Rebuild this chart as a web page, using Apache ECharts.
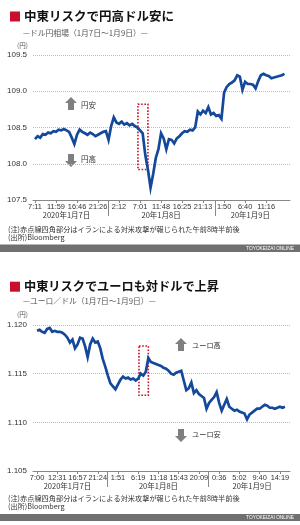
<!DOCTYPE html>
<html><head><meta charset="utf-8">
<script src="https://cdn.jsdelivr.net/npm/echarts@6/dist/echarts.min.js"></script>
<style>html,body{margin:0;padding:0;background:#fff}#c{width:300px;height:525px}</style>
</head><body><div id="c"></div>
<script>
// ---------- Chart 1: USD/JPY ----------
const usdjpy = [
 108.34,108.38,108.36,108.41,108.40,108.43,108.42,108.45,108.44,108.47,
 108.46,108.48,108.46,108.44,108.36,108.27,108.40,108.47,108.44,108.42,
 108.40,108.43,108.41,108.38,108.40,108.42,108.44,108.45,108.33,108.52,
 108.64,108.57,108.55,108.58,108.54,108.56,108.53,108.55,108.52,108.50,
 108.46,108.42,108.12,107.92,107.67,107.86,108.08,108.20,108.42,108.35,
 108.20,108.34,108.33,108.28,108.35,108.38,108.42,108.45,108.44,108.47,
 108.46,108.50,108.72,108.68,108.73,108.70,108.78,108.68,108.70,108.66,
 108.67,108.62,108.98,109.06,109.10,109.12,109.15,109.22,109.20,109.02,
 109.13,109.10,109.10,109.09,109.04,109.14,109.22,109.24,109.22,109.21,
 109.18,109.19,109.20,109.21,109.22,109.24
];
const usdjpyTickIdx = [0,8,16,24,32,40,48,56,64,72,80,88];
const usdjpyTickLabels = ['7:11','11:59','16:46','21:26','2:12','7:01','11:48','16:25','21:13','1:50','6:40','11:16'];
const usdjpyDaySplits = [28, 68.5];
const usdjpyDayIdx = [12, 48, 82];
const usdjpyDayLabels = ['2020年1月7日','20年1月8日','20年1月9日'];
const usdjpyEventBox = [[39.2, 108.82], [43, 107.92]];
const usdjpyY = {min: 107.5, max: 109.5, interval: 0.5};

// ---------- Chart 2: EUR/USD ----------
const eurusd = [
 1.1194,1.1195,1.1193,1.1192,1.1196,1.1197,1.1193,1.1194,1.1193,1.1193,
 1.1192,1.1190,1.1187,1.1182,1.1185,1.1176,1.1180,1.1187,1.1186,1.1178,
 1.1167,1.1180,1.1186,1.1182,1.1183,1.1176,1.1165,1.1157,1.1148,1.1140,
 1.1137,1.1134,1.1139,1.1144,1.1147,1.1145,1.1146,1.1144,1.1145,1.1143,
 1.1145,1.1150,1.1148,1.1152,1.1166,1.1162,1.1161,1.1160,1.1159,1.1158,
 1.1156,1.1155,1.1153,1.1150,1.1149,1.1151,1.1152,1.1153,1.1143,1.1133,
 1.1135,1.1141,1.1130,1.1133,1.1129,1.1127,1.1125,1.1114,1.1120,1.1123,
 1.1126,1.1131,1.1120,1.1112,1.1118,1.1124,1.1116,1.1114,1.1112,1.1113,
 1.1111,1.1110,1.1109,1.1103,1.1108,1.1110,1.1112,1.1114,1.1114,1.1116,
 1.1118,1.1117,1.1115,1.1115,1.1114,1.1115,1.1116,1.1115,1.1116
];
const eurusdTickIdx = [0,8,16,24,32,40,48,56,64,72,80,88,96];
const eurusdTickLabels = ['7:00','12:31','16:57','21:24','1:51','6:19','11:18','15:43','20:09','0:36','5:02','9:40','14:19'];
const eurusdDaySplits = [27.7, 67.6];
const eurusdDayIdx = [12, 48, 85];
const eurusdDayLabels = ['2020年1月7日','20年1月8日','20年1月9日'];
const eurusdEventBox = [[40.3, 1.11784], [44, 1.11278]];
const eurusdY = {min: 1.105, max: 1.120, interval: 0.005};

// ---------- styles ----------
const FONT = '"Liberation Sans","Noto Sans CJK JP",sans-serif';
const JP = '"Noto Sans CJK JP",sans-serif';
const LINE = '#13489a';
const GRAY = '#888';

function lookup(idxArr, labels){
  return v => { const k = idxArr.findIndex(t => Math.abs(t - v) < 1e-6); return k >= 0 ? labels[k] : ''; };
}
function xAxes(gridIndex, xmin, xmax, tickIdx, tickLabels, splits, dayIdx, dayLabels){
  return [{
    type:'value', gridIndex, min:xmin, max:xmax, position:'bottom',
    axisLine:{show:true, lineStyle:{color:GRAY, width:1}},
    axisTick:{show:true, customValues:tickIdx, length:3, lineStyle:{color:GRAY}},
    axisLabel:{customValues:tickIdx, formatter:lookup(tickIdx, tickLabels), fontSize:7.4, color:'#333', margin:3.5, fontFamily:FONT, hideOverlap:false},
    splitLine:{show:false}
  },{
    type:'value', gridIndex, min:xmin, max:xmax, position:'bottom',
    axisLine:{show:false},
    axisTick:{show:true, customValues:splits, length:16, lineStyle:{color:GRAY}},
    axisLabel:{customValues:dayIdx, formatter:lookup(dayIdx, dayLabels), fontSize:7.5, color:'#333', margin:11, fontFamily:JP},
    splitLine:{show:false}
  }];
}
function yAxis(gridIndex, cfg, dec){
  return {
    type:'value', gridIndex, min:cfg.min, max:cfg.max, interval:cfg.interval,
    axisLine:{show:false}, axisTick:{show:false},
    axisLabel:{fontSize:8, color:'#333', margin:6, fontFamily:FONT, formatter:v => v.toFixed(dec)},
    splitLine:{show:true, lineStyle:{color:'#bbb', type:'dotted', width:1}}
  };
}
function series(xi, yi, vals, box){
  return {
    type:'line', xAxisIndex:xi, yAxisIndex:yi, data:vals.map((v,i)=>[i,v]),
    showSymbol:false, symbol:'none', lineStyle:{color:LINE, width:2.7, join:'miter'}, animation:false,
    markArea:{silent:true, itemStyle:{color:'rgba(0,0,0,0)', borderColor:'#c8102e', borderWidth:1.6, borderType:'dotted'},
      data:[[{coord:box[0]},{coord:box[1]}]]}
  };
}
function arrow(x0, y0, up){
  const w=12, h=13, hh=6, s=3;
  const pts = up
   ? [[x0+w/2,y0],[x0+w,y0+hh],[x0+w-s,y0+hh],[x0+w-s,y0+h],[x0+s,y0+h],[x0+s,y0+hh],[x0,y0+hh]]
   : [[x0+w/2,y0+h],[x0+w,y0+h-hh],[x0+w-s,y0+h-hh],[x0+w-s,y0],[x0+s,y0],[x0+s,y0+h-hh],[x0,y0+h-hh]];
  return {type:'polygon', shape:{points:pts}, style:{fill:'#7f7f7f'}};
}
function txt(x, y, t, size, opts){
  return {type:'text', x, y, style:Object.assign({text:t, fontSize:size, fontFamily:JP, fill:'#333', verticalAlign:'middle', align:'left'}, (opts||{}))};
}

const chart = echarts.init(document.getElementById('c'), null, {renderer:'canvas'});
chart.setOption({
  backgroundColor:'#fff',
  animation:false,
  grid:[
    {left:33, top:55, width:257, height:145},
    {left:33, top:325, width:257, height:146}
  ],
  xAxis:[
    ...xAxes(0, -0.76, 97.1, usdjpyTickIdx, usdjpyTickLabels, usdjpyDaySplits, usdjpyDayIdx, usdjpyDayLabels),
    ...xAxes(1, -1.6, 100, eurusdTickIdx, eurusdTickLabels, eurusdDaySplits, eurusdDayIdx, eurusdDayLabels)
  ],
  yAxis:[ yAxis(0, usdjpyY, 1), yAxis(1, eurusdY, 3) ],
  series:[ series(0, 0, usdjpy, usdjpyEventBox), series(2, 1, eurusd, eurusdEventBox) ],
  graphic:[
    // chart 1 header
    {type:'rect', shape:{x:10, y:11.5, width:10, height:10}, style:{fill:'#c8102e'}},
    txt(24, 16.5, '中東リスクで円高ドル安に', 12.5, {fontWeight:'bold', fill:'#111'}),
    txt(23, 33, '—ドル円相場（1月7日〜1月9日）—', 7.8, {fill:'#555'}),
    txt(17, 46, '(円)', 6.5, {fill:'#555'}),
    arrow(65, 97, true), txt(81, 105, '円安', 7.5),
    arrow(65, 154, false), txt(81, 159, '円高', 7.5),
    txt(8, 229.5, '(注)赤点線四角部分はイランによる対米攻撃が報じられた午前8時半前後', 7.2, {fill:'#333'}),
    txt(8, 237.5, '(出所)Bloomberg', 7.2, {fill:'#333'}),
    {type:'rect', shape:{x:0, y:244.5, width:300, height:7.5}, style:{fill:'#707070'}},
    txt(294, 248.3, 'TOYOKEIZAI ONLINE', 4.8, {fill:'#fff', align:'right', fontFamily:FONT}),
    // chart 2 header
    {type:'rect', shape:{x:10, y:281.7, width:10, height:10}, style:{fill:'#c8102e'}},
    txt(24, 286.7, '中東リスクでユーロも対ドルで上昇', 12.2, {fontWeight:'bold', fill:'#111'}),
    txt(23, 301.5, '—ユーロ／ドル（1月7日〜1月9日）—', 7.8, {fill:'#555'}),
    txt(17, 315, '(円)', 6.5, {fill:'#555'}),
    arrow(175, 338, true), txt(192, 345, 'ユーロ高', 7.2),
    arrow(175, 429, false), txt(192, 434, 'ユーロ安', 7.2),
    txt(8, 498.7, '(注)赤点線四角部分はイランによる対米攻撃が報じられた午前8時半前後', 7.2, {fill:'#333'}),
    txt(8, 506.7, '(出所)Bloomberg', 7.2, {fill:'#333'}),
    {type:'rect', shape:{x:0, y:514, width:300, height:7}, style:{fill:'#707070'}},
    txt(294, 517.6, 'TOYOKEIZAI ONLINE', 4.8, {fill:'#fff', align:'right', fontFamily:FONT})
  ]
});
</script></body></html>
